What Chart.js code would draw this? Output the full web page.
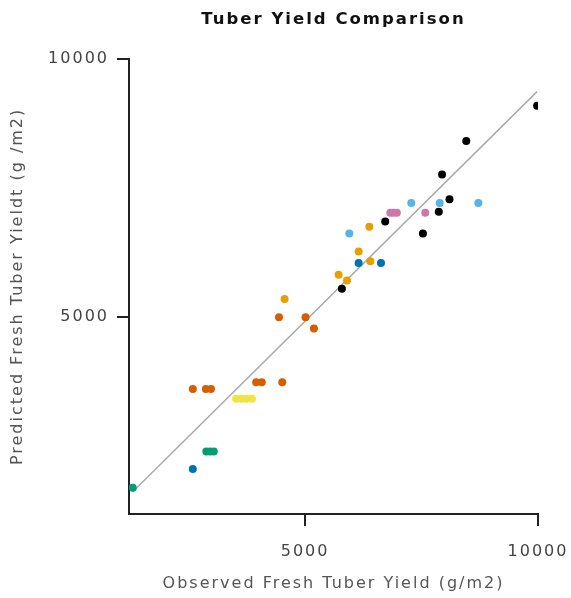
<!DOCTYPE html>
<html>
<head>
<meta charset="utf-8">
<title>Tuber Yield Comparison</title>
<script src="https://cdn.jsdelivr.net/npm/chart.js@4.4.1/dist/chart.umd.min.js"></script>
<style>
    html, body { margin: 0; padding: 0; background: #fff; }
    #wrap { width: 571px; height: 598px; }
</style>
</head>
<body>
<div id="wrap"><canvas id="chart" width="571" height="598"></canvas></div>
<script>

    // observed (x) vs predicted (y), one array pair per group
    var blackX = [9980, 8460, 7940, 8100, 7870, 6720, 7530, 5790]
    var blackY = [9090, 8410, 7760, 7280, 7040, 6850, 6620, 5550]
    var skyX = [7280, 7890, 8720, 5950]
    var skyY = [7210, 7210, 7210, 6620]
    var pinkX = [6830, 6900, 6970, 7580]
    var pinkY = [7020, 7020, 7020, 7020]
    var orangeX = [6380, 6150, 6400, 5720, 5900, 4560]
    var orangeY = [6750, 6270, 6080, 5820, 5710, 5350]
    var blueX = [6150, 6630, 2590]
    var blueY = [6050, 6050, 2060]
    var vermX = [4440, 5010, 5190, 2590, 2870, 2980, 3950, 4070, 4510]
    var vermY = [5000, 5000, 4780, 3610, 3610, 3610, 3740, 3740, 3740]
    var yellowX = [3520, 3630, 3740, 3860]
    var yellowY = [3420, 3420, 3420, 3420]
    var greenX = [2880, 2960, 3040, 1300]
    var greenY = [2400, 2400, 2400, 1700]

    // fitted line end points
    var fitX = [1300, 9980]
    var fitY = [1620, 9365]

    var xTicks = [5000, 10000]
    var yTicks = [5000, 10000]

    function pts(xs, ys) {
        return xs.map(function(x, i) { return { x: x, y: ys[i] } })
    }

    function group(xs, ys, color) {
        return {
            data: pts(xs, ys),
            backgroundColor: color,
            borderWidth: 0,
            pointRadius: 4,
            pointHoverRadius: 4
        }
    }

    function plain(v) {
        return String(v)
    }

    var spacing = {
        id: 'spacing',
        beforeUpdate(chart) { chart.ctx.letterSpacing = '2px' },
        beforeDraw(chart) { chart.ctx.letterSpacing = '2px' }
    }

    var axisFont = { family: 'DejaVu Sans', size: 16 }

    var el = document.getElementById('chart')
    var chart = new Chart(el, {
        type: 'scatter',
        data: {
            datasets: [
                group(blackX, blackY, '#000000'),
                group(skyX, skyY, '#56B4E9'),
                group(pinkX, pinkY, '#CC79A7'),
                group(orangeX, orangeY, '#E69F00'),
                group(blueX, blueY, '#0072B2'),
                group(vermX, vermY, '#D55E00'),
                group(yellowX, yellowY, '#F0E442'),
                group(greenX, greenY, '#009E73'),
                {
                    data: pts(fitX, fitY),
                    showLine: true,
                    borderColor: '#aaaaaa',
                    borderWidth: 1.5,
                    pointRadius: 0,
                    pointHoverRadius: 0
                }
            ]
        },
        options: {
            responsive: false,
            animation: false,
            events: [],
            layout: { padding: { left: 0, right: 33, top: 0, bottom: 0 } },
            plugins: {
                legend: { display: false },
                tooltip: { enabled: false },
                title: {
                    display: true,
                    text: 'Tuber Yield Comparison',
                    fullSize: false,
                    color: '#111',
                    font: { family: 'DejaVu Sans', size: 16.5, weight: 'bold' },
                    padding: { top: 10, bottom: 29 }
                }
            },
            scales: {
                x: {
                    type: 'linear',
                    min: 1220,
                    max: 10000,
                    afterBuildTicks(s) { s.ticks = xTicks.map(function(v) { return { value: v } }) },
                    afterFit(s) {
                        s.height = 84
                        s.paddingLeft = 0
                        s.paddingRight = 0
                    },
                    grid: { drawOnChartArea: false, drawTicks: true, tickLength: 12, color: '#222', lineWidth: 2 },
                    border: { color: '#222', width: 2 },
                    ticks: { color: '#444', font: axisFont, padding: 16, maxRotation: 0, callback: plain },
                    title: {
                        display: true,
                        text: 'Observed Fresh Tuber Yield (g/m2)',
                        color: '#555',
                        font: axisFont,
                        padding: { top: 0, bottom: 5 }
                    }
                },
                y: {
                    type: 'linear',
                    min: 1190,
                    max: 10000,
                    afterBuildTicks(s) { s.ticks = yTicks.map(function(v) { return { value: v } }) },
                    afterFit(s) {
                        s.width = 129
                        s.paddingTop = 0
                        s.paddingBottom = 0
                    },
                    grid: { drawOnChartArea: false, drawTicks: true, tickLength: 12, color: '#222', lineWidth: 2 },
                    border: { color: '#222', width: 2 },
                    ticks: { color: '#444', font: axisFont, padding: 8, callback: plain },
                    title: {
                        display: true,
                        text: 'Predicted Fresh Tuber Yieldt (g /m2)',
                        color: '#555',
                        font: axisFont,
                        padding: { top: 8, bottom: 0 }
                    }
                }
            }
        },
        plugins: [spacing]
    })

</script>
</body>
</html>
